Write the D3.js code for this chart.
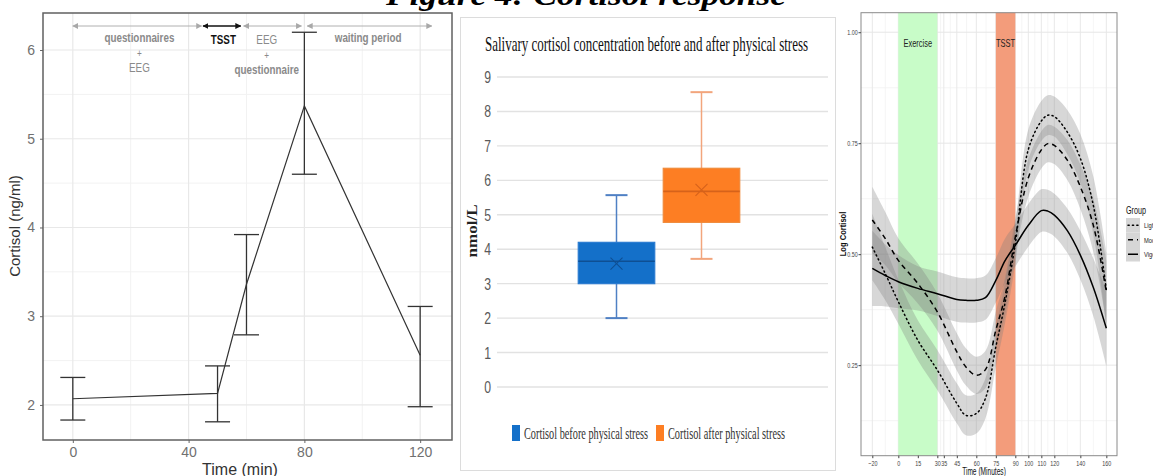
<!DOCTYPE html>
<html>
<head>
<meta charset="utf-8">
<script src="https://cdn.jsdelivr.net/npm/d3@7"></script>
<style>
  body { margin: 0; background: #fff; }
  svg { display: block; }
</style>
</head>
<body>
<script>
const W = 1153, H = 476;

// ---- left chart: cortisol over time (TSST) ----
const timeMin = [0, 50, 60, 80, 120];
const cortisolMean = [2.07, 2.13, 3.36, 5.37, 2.56];
const cortisolLow = [1.83, 1.81, 2.79, 4.60, 1.98];
const cortisolHigh = [2.31, 2.44, 3.92, 6.20, 3.11];
const leftYTicks = [2, 3, 4, 5, 6];
const leftXTicks = [0, 40, 80, 120];
const phaseStart = [0, 45, 59, 81];
const phaseEnd = [44.5, 58, 79, 124];
const phaseText = [["questionnaires", "+", "EEG"], ["TSST"], ["EEG", "+", "questionnaire"], ["waiting period"]];
const phaseTextAt = [23, 52, 67, 102];

// ---- middle chart: box plots ----
const boxSeries = ["Cortisol before physical stress", "Cortisol after physical stress"];
const boxMin = [2.0, 3.72];
const boxQ1 = [3.0, 4.78];
const boxMedian = [3.65, 5.68];
const boxQ3 = [4.2, 6.35];
const boxMax = [5.57, 8.56];
const boxMean = [3.58, 5.72];
const midYTicks = [0, 1, 2, 3, 4, 5, 6, 7, 8, 9];

// ---- right chart: log cortisol by group ----
const minutes = [-20, -10, 0, 15, 30, 45, 52, 60, 67, 75, 82, 90, 100, 110, 115, 120, 130, 140, 150, 160];
const lightMean = [0.516, 0.456, 0.393, 0.306, 0.239, 0.164, 0.137, 0.141, 0.175, 0.291, 0.389, 0.524, 0.736, 0.800, 0.813, 0.810, 0.775, 0.716, 0.610, 0.420];
const lightSE   = [0.075, 0.060, 0.050, 0.045, 0.045, 0.045, 0.045, 0.045, 0.045, 0.045, 0.045, 0.045, 0.045, 0.045, 0.045, 0.045, 0.050, 0.055, 0.065, 0.085];
const moderateMean = [0.577, 0.535, 0.486, 0.434, 0.370, 0.280, 0.246, 0.227, 0.240, 0.329, 0.404, 0.539, 0.672, 0.735, 0.749, 0.745, 0.712, 0.652, 0.565, 0.415];
const moderateSE   = [0.075, 0.060, 0.050, 0.045, 0.042, 0.042, 0.042, 0.042, 0.042, 0.042, 0.042, 0.042, 0.042, 0.042, 0.042, 0.042, 0.045, 0.050, 0.060, 0.070];
const vigorousMean = [0.468, 0.452, 0.438, 0.423, 0.411, 0.398, 0.396, 0.396, 0.402, 0.441, 0.485, 0.520, 0.565, 0.598, 0.597, 0.588, 0.553, 0.498, 0.425, 0.333];
const vigorousSE   = [0.085, 0.070, 0.060, 0.050, 0.050, 0.050, 0.050, 0.050, 0.050, 0.050, 0.050, 0.048, 0.048, 0.048, 0.048, 0.048, 0.050, 0.055, 0.065, 0.085];
const groupNames = ["Light", "Moderate", "Vigorous"];
const rightXTicks = [-20, 0, 15, 30, 35, 45, 60, 75, 90, 100, 110, 120, 140, 160];
const rightYTicks = [0.25, 0.50, 0.75, 1.00];
const shadeStart = [0, 75];
const shadeEnd = [30, 90];
const shadeLabel = ["Exercise", "TSST"];

const sans = "'Liberation Sans', Arial, sans-serif";
const serif = "'Liberation Serif', serif";

// squeeze a text horizontally around its anchor point
function squeeze(sel, x, y, sx) {
  return sel.attr("transform", "translate(" + x + "," + y + ") scale(" + sx + ",1)");
}

let svg = d3.select("body").append("svg")
  .attr("width", W).attr("height", H);

// big heading, mostly cut off at the top
svg.append("text")
  .attr("x", 386).attr("y", 5)
  .attr("textLength", 400).attr("lengthAdjust", "spacingAndGlyphs")
  .style("font-family", serif)
  .style("font-weight", "bold").style("font-style", "italic")
  .style("font-size", "30px")
  .text("Figure 4: Cortisol response");

// =============== left chart ===============
const p1 = svg.append("g");
const x1 = d3.scaleLinear().domain([-10.3, 131]).range([43, 452]);
const y1 = d3.scaleLinear().domain([1.605, 6.417]).range([440, 13]);

p1.append("rect").attr("x", 43).attr("y", 13).attr("width", 409).attr("height", 427).attr("fill", "#fff");

// grid
p1.selectAll(".ygm").data([2.5, 3.5, 4.5, 5.5]).enter().append("line")
  .attr("x1", 43).attr("x2", 452).attr("y1", d => y1(d)).attr("y2", d => y1(d))
  .attr("stroke", "#f2f2f2").attr("stroke-width", 1);
p1.selectAll(".xgm").data([20, 60, 100]).enter().append("line")
  .attr("y1", 13).attr("y2", 440).attr("x1", d => x1(d)).attr("x2", d => x1(d))
  .attr("stroke", "#f2f2f2").attr("stroke-width", 1);
p1.selectAll(".yg").data(leftYTicks).enter().append("line")
  .attr("x1", 43).attr("x2", 452).attr("y1", d => y1(d)).attr("y2", d => y1(d))
  .attr("stroke", "#e8e8e8").attr("stroke-width", 1.2);
p1.selectAll(".xg").data(leftXTicks).enter().append("line")
  .attr("y1", 13).attr("y2", 440).attr("x1", d => x1(d)).attr("x2", d => x1(d))
  .attr("stroke", "#e8e8e8").attr("stroke-width", 1.2);

// axes
let ax1 = p1.append("g").attr("transform", "translate(43,0)")
  .call(d3.axisLeft(y1).tickValues(leftYTicks).tickSize(3).tickPadding(5).tickFormat(d3.format("d")));
let bx1 = p1.append("g").attr("transform", "translate(0,440)")
  .call(d3.axisBottom(x1).tickValues(leftXTicks).tickSize(3).tickPadding(4));
[ax1, bx1].forEach(a => {
  a.select(".domain").remove();
  a.selectAll("line").attr("stroke", "#666");
  a.selectAll("text").attr("fill", "#707070").style("font-size", "14px").style("font-family", sans);
});

// error bars
const errData = timeMin.map((t, i) => ({t: t, m: cortisolMean[i], lo: cortisolLow[i], hi: cortisolHigh[i]}));
const capW = 12.5;
let eb = p1.selectAll(".eb").data(errData).enter().append("g").attr("stroke", "#333").attr("stroke-width", 1.3);
eb.append("line").attr("x1", d => x1(d.t)).attr("x2", d => x1(d.t)).attr("y1", d => y1(d.lo)).attr("y2", d => y1(d.hi));
eb.append("line").attr("x1", d => x1(d.t) - capW).attr("x2", d => x1(d.t) + capW).attr("y1", d => y1(d.lo)).attr("y2", d => y1(d.lo));
eb.append("line").attr("x1", d => x1(d.t) - capW).attr("x2", d => x1(d.t) + capW).attr("y1", d => y1(d.hi)).attr("y2", d => y1(d.hi));

p1.append("path").datum(errData)
  .attr("d", d3.line().x(d => x1(d.t)).y(d => y1(d.m)))
  .attr("fill", "none").attr("stroke", "#333").attr("stroke-width", 1.2);

// phase arrows
const defs = svg.append("defs");
[["arrG", "#a8a8a8"], ["arrK", "#111"]].forEach(([id, c]) => {
  defs.append("marker").attr("id", id).attr("viewBox", "0 0 10 10")
    .attr("refX", 9).attr("refY", 5).attr("markerWidth", 6).attr("markerHeight", 6)
    .attr("markerUnits", "userSpaceOnUse")
    .attr("orient", "auto-start-reverse")
    .append("path").attr("d", "M0,0 L10,5 L0,10 Z").attr("fill", c);
});
phaseStart.forEach((s, i) => {
  const isT = phaseText[i][0] === "TSST";
  p1.append("line")
    .attr("x1", x1(s)).attr("x2", x1(phaseEnd[i])).attr("y1", 26).attr("y2", 26)
    .attr("stroke", isT ? "#111" : "#b0b0b0").attr("stroke-width", isT ? 1.3 : 1)
    .attr("marker-start", isT ? "url(#arrK)" : "url(#arrG)")
    .attr("marker-end", isT ? "url(#arrK)" : "url(#arrG)");
  phaseText[i].forEach((ln, k) => {
    const t = p1.append("text")
      .attr("text-anchor", "middle")
      .attr("fill", isT ? "#111" : "#8a8a8a")
      .style("font-family", sans)
      .style("font-weight", (ln === "EEG" || ln === "+") ? "normal" : "bold")
      .style("font-size", ln === "+" ? "10px" : "12px")
      .text(ln);
    squeeze(t, x1(phaseTextAt[i]), (i === 2 || isT ? 44 : 42) + k * 15, 0.82);
  });
});

p1.append("rect").attr("x", 43).attr("y", 13).attr("width", 409).attr("height", 427)
  .attr("fill", "none").attr("stroke", "#606060").attr("stroke-width", 1.5);

p1.append("text").attr("transform", "translate(20,226) rotate(-90)")
  .attr("text-anchor", "middle").attr("fill", "#333")
  .style("font-family", sans).style("font-size", "15px")
  .text("Cortisol (ng/ml)");
p1.append("text").attr("x", 240).attr("y", 475)
  .attr("text-anchor", "middle").attr("fill", "#333")
  .style("font-family", sans).style("font-size", "16px")
  .text("Time (min)");

// =============== middle chart ===============
const p2 = svg.append("g");
p2.append("rect").attr("x", 460.5).attr("y", 17.5).attr("width", 375).attr("height", 453)
  .attr("fill", "#fff").attr("stroke", "#dcdcdc");
p2.append("text").attr("x", 485).attr("y", 51)
  .attr("textLength", 323).attr("lengthAdjust", "spacingAndGlyphs")
  .attr("fill", "#111")
  .style("font-family", serif).style("font-size", "22px")
  .text("Salivary cortisol concentration before and after physical stress");

const y2 = d3.scaleLinear().domain([0, 9]).range([387, 77]);
const xb = d3.scaleBand().domain(boxSeries).range([574, 744]).paddingInner(0.1).paddingOuter(0.05);

p2.selectAll(".g2").data(midYTicks).enter().append("line")
  .attr("x1", 497).attr("x2", 828).attr("y1", d => y2(d)).attr("y2", d => y2(d))
  .attr("stroke", "#e2e2e2").attr("stroke-width", 1.4);
p2.selectAll(".t2").data(midYTicks).enter().append("text")
  .attr("text-anchor", "end")
  .attr("fill", "#5a5a5a")
  .style("font-family", sans).style("font-size", "17px")
  .text(d => d)
  .each(function(d) { squeeze(d3.select(this), 491, y2(d) + 6, 0.72); });

const boxFill = ["#1470c9", "#fd7e23"];
const boxEdge = ["#2a7bd0", "#f08a3a"];
const boxLine = ["#0e4f93", "#d6621a"];
const whiskerCol = ["#4f80c4", "#f2a57c"];
boxSeries.forEach((s, i) => {
  const cx = xb(s) + xb.bandwidth() / 2;
  const g = p2.append("g");
  g.append("line").attr("x1", cx).attr("x2", cx).attr("y1", y2(boxMax[i])).attr("y2", y2(boxMin[i]))
    .attr("stroke", whiskerCol[i]).attr("stroke-width", 1.5);
  [boxMax[i], boxMin[i]].forEach(v => {
    g.append("line").attr("x1", cx - 11).attr("x2", cx + 11).attr("y1", y2(v)).attr("y2", y2(v))
      .attr("stroke", whiskerCol[i]).attr("stroke-width", 2);
  });
  g.append("rect").attr("x", xb(s)).attr("width", xb.bandwidth())
    .attr("y", y2(boxQ3[i])).attr("height", y2(boxQ1[i]) - y2(boxQ3[i]))
    .attr("fill", boxFill[i]).attr("stroke", boxEdge[i]).attr("stroke-width", 1.2);
  g.append("line").attr("x1", xb(s)).attr("x2", xb(s) + xb.bandwidth())
    .attr("y1", y2(boxMedian[i])).attr("y2", y2(boxMedian[i]))
    .attr("stroke", boxLine[i]).attr("stroke-width", 1.6);
  const my = y2(boxMean[i]);
  g.append("path").attr("d", `M${cx - 6},${my - 6}L${cx + 6},${my + 6}M${cx - 6},${my + 6}L${cx + 6},${my - 6}`)
    .attr("stroke", boxLine[i]).attr("stroke-width", 1.1);
});

p2.append("text").attr("transform", "translate(477,231) rotate(-90)")
  .attr("text-anchor", "middle").attr("fill", "#222")
  .attr("textLength", 53).attr("lengthAdjust", "spacingAndGlyphs")
  .style("font-family", serif).style("font-weight", "bold").style("font-size", "15px")
  .text("nmol/L");

// legend
const legX = [512, 656];
const legW = [124, 117];
boxSeries.forEach((s, i) => {
  p2.append("rect").attr("x", legX[i]).attr("y", 425).attr("width", 8).attr("height", 16)
    .attr("fill", boxFill[i]);
  p2.append("text").attr("x", legX[i] + 12).attr("y", 439)
    .attr("textLength", legW[i]).attr("lengthAdjust", "spacingAndGlyphs")
    .attr("fill", "#333")
    .style("font-family", serif).style("font-size", "17px")
    .text(s);
});

// =============== right chart ===============
const p3 = svg.append("g");
const x3 = d3.scaleLinear().domain([-28.7, 168.2]).range([861, 1117]);
const y3 = d3.scaleLinear().domain([0.046, 1.044]).range([455.7, 12.7]);

const minorX = rightXTicks.slice(1).map((t, i) => (t + rightXTicks[i]) / 2);
p3.selectAll(".mx").data(minorX).enter().append("line")
  .attr("x1", d => x3(d)).attr("x2", d => x3(d)).attr("y1", 12.7).attr("y2", 455.7)
  .attr("stroke", "#f3f3f3").attr("stroke-width", 0.8);
p3.selectAll(".my").data([0.125, 0.375, 0.625, 0.875]).enter().append("line")
  .attr("y1", d => y3(d)).attr("y2", d => y3(d)).attr("x1", 861).attr("x2", 1117)
  .attr("stroke", "#f1f1f1").attr("stroke-width", 0.8);
p3.selectAll(".gx").data(rightXTicks).enter().append("line")
  .attr("x1", d => x3(d)).attr("x2", d => x3(d)).attr("y1", 12.7).attr("y2", 455.7)
  .attr("stroke", "#e8e8e8").attr("stroke-width", 1);
p3.selectAll(".gy").data(rightYTicks).enter().append("line")
  .attr("y1", d => y3(d)).attr("y2", d => y3(d)).attr("x1", 861).attr("x2", 1117)
  .attr("stroke", "#e6e6e6").attr("stroke-width", 1);

const shadeCol = ["#c8fcc8", "#f39c7b"];
shadeStart.forEach((s, i) => {
  p3.append("rect").attr("x", x3(s)).attr("width", x3(shadeEnd[i]) - x3(s))
    .attr("y", 12.7).attr("height", 443).attr("fill", shadeCol[i]);
  const t = p3.append("text")
    .attr("text-anchor", "middle").attr("fill", "#222")
    .style("font-family", sans).style("font-size", "10px")
    .text(shadeLabel[i]);
  squeeze(t, x3((s + shadeEnd[i]) / 2), 47, 0.75);
});

const groups = [
  {name: groupNames[0], mean: lightMean, se: lightSE, dash: "1.2,3.2"},
  {name: groupNames[1], mean: moderateMean, se: moderateSE, dash: "5,4"},
  {name: groupNames[2], mean: vigorousMean, se: vigorousSE, dash: null}
];
const curve = d3.curveCatmullRom.alpha(0.5);
const area = d3.area().curve(curve).x(d => x3(d.t)).y0(d => y3(d.lo)).y1(d => y3(d.hi));
const line3 = d3.line().curve(curve).x(d => x3(d.t)).y(d => y3(d.m));
groups.forEach(g => {
  g.pts = minutes.map((t, i) => ({t: t, m: g.mean[i], lo: g.mean[i] - g.se[i], hi: g.mean[i] + g.se[i]}));
  p3.append("path").datum(g.pts).attr("d", area).attr("fill", "#7a7a7a").attr("fill-opacity", 0.3);
});
groups.forEach((g, i) => {
  p3.append("path").datum(g.pts).attr("d", line3)
    .attr("fill", "none").attr("stroke", "#000").attr("stroke-width", 1.5)
    .attr("stroke-linecap", i === 0 ? "round" : "butt")
    .attr("stroke-dasharray", g.dash);
});

p3.append("rect").attr("x", 861).attr("y", 12.7).attr("width", 256).attr("height", 443)
  .attr("fill", "none").attr("stroke", "#8a8a8a").attr("stroke-width", 1);

let ax3 = p3.append("g").attr("transform", "translate(861,0)")
  .call(d3.axisLeft(y3).tickValues(rightYTicks).tickSize(2.5).tickPadding(2).tickFormat(d3.format(".2f")));
let bx3 = p3.append("g").attr("transform", "translate(0,455.7)")
  .call(d3.axisBottom(x3).tickValues(rightXTicks).tickSize(2.5).tickPadding(2.5));
[ax3, bx3].forEach(a => {
  a.select(".domain").remove();
  a.selectAll("line").attr("stroke", "#444");
  a.selectAll("text").attr("fill", "#444").style("font-size", "7.5px").style("font-family", sans)
    .attr("transform", "scale(0.72,1)");
});

p3.append("text").attr("transform", "translate(846,234) rotate(-90) scale(0.8,1)")
  .attr("text-anchor", "middle").attr("fill", "#111")
  .style("font-family", sans).style("font-size", "9.5px").style("font-weight", "bold")
  .text("Log Cortisol");
squeeze(p3.append("text")
  .attr("text-anchor", "middle").attr("fill", "#111")
  .style("font-family", sans).style("font-size", "10px")
  .text("Time (Minutes)"), 984, 475, 0.66);

// legend
squeeze(p3.append("text").attr("fill", "#111")
  .style("font-family", sans).style("font-size", "10px").text("Group"), 1126, 214, 0.72);
groups.forEach((g, i) => {
  const ky = 218 + i * 14.5;
  p3.append("rect").attr("x", 1126).attr("y", ky).attr("width", 14).attr("height", 14.5)
    .attr("fill", "#d6d6d6");
  p3.append("line").attr("x1", 1128).attr("x2", 1138).attr("y1", ky + 7.25).attr("y2", ky + 7.25)
    .attr("stroke", "#000").attr("stroke-width", 1.5)
    .attr("stroke-linecap", i === 0 ? "round" : "butt")
    .attr("stroke-dasharray", i === 0 ? "1.2,3.2" : (i === 1 ? "5,4" : null));
  squeeze(p3.append("text").attr("fill", "#222")
    .style("font-family", sans).style("font-size", "8px").text(g.name), 1144, ky + 10, 0.72);
});
</script>
</body>
</html>
